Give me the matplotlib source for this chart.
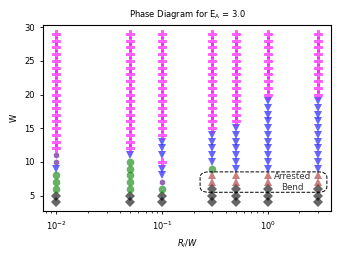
import matplotlib
matplotlib.use("Agg")
import matplotlib.pyplot as plt
from matplotlib.patches import FancyBboxPatch

x_vals = [0.01, 0.05, 0.1, 0.3, 0.5, 1.0, 3.0]
W_vals = list(range(4, 30))

gray_W = {0.01: [4, 5], 0.05: [4, 5], 0.1: [4, 5], 0.3: [4, 5, 6], 0.5: [4, 5, 6], 1.0: [4, 5, 6], 3.0: [4, 5, 6]}
green_W = {0.01: [6, 7, 8], 0.05: [6, 7, 8, 9, 10], 0.1: [6], 0.3: [9]}
purple_W = {0.01: [10, 11], 0.1: [7]}
red_W = {0.3: [7, 8], 0.5: [7, 8], 1.0: [7, 8], 3.0: [7, 8]}
blue_W = {0.01: [9], 0.05: [11], 0.1: [8, 9, 11, 12, 13],
          0.3: list(range(10, 15)), 0.5: list(range(9, 16)),
          1.0: list(range(9, 20)), 3.0: list(range(9, 20))}
magenta_W = {0.01: list(range(12, 30)), 0.05: list(range(12, 30)),
             0.1: [10] + list(range(14, 30)), 0.3: list(range(15, 30)),
             0.5: list(range(16, 30)), 1.0: list(range(20, 30)),
             3.0: list(range(20, 30))}

fig, ax = plt.subplots(figsize=(3.39, 2.54), dpi=100)
fig.subplots_adjust(left=0.127, right=0.977, top=0.90, bottom=0.17)

def plot_phase(d, marker, color, ms, alpha=0.6, mew=0):
    xs, ys = [], []
    for x, ws in d.items():
        for w in ws:
            xs.append(x)
            ys.append(w)
    ax.plot(xs, ys, linestyle='none', marker=marker, color=color,
            markersize=ms, alpha=alpha, markeredgewidth=mew)

plot_phase(gray_W, 'D', 'black', 5.2)
plot_phase(green_W, 'o', 'green', 5.5)
plot_phase(purple_W, 'h', 'indigo', 4.5)
plot_phase(red_W, '^', 'brown', 5.5)
plot_phase(blue_W, 'v', 'blue', 5.5)
plot_phase(magenta_W, 'P', 'magenta', 5.5, mew=0.6)

ax.set_xscale('log')
ax.set_ylim(2.75, 30.25)
ax.set_xlabel(r'$R_l/W$', fontsize=6)
ax.set_ylabel('W', fontsize=6)
ax.set_title(r'Phase Diagram for E$_\mathrm{A}$ = 3.0', fontsize=6)
ax.tick_params(labelsize=6, length=2.5, width=0.6)
ax.tick_params(which='minor', length=1.5, width=0.5)
for s in ax.spines.values():
    s.set_linewidth(0.8)

box = FancyBboxPatch((0.545, 0.10), 0.44, 0.11, boxstyle='round,pad=0.0,rounding_size=0.03',
                     transform=ax.transAxes, fill=False, linestyle='--',
                     edgecolor='black', linewidth=0.7, zorder=5)
ax.add_patch(box)
ax.text(0.865, 0.155, 'Arrested\nBend', transform=ax.transAxes, fontsize=6.3,
        ha='center', va='center', color='#333333', zorder=6)

fig.savefig('out.png', dpi=100)
